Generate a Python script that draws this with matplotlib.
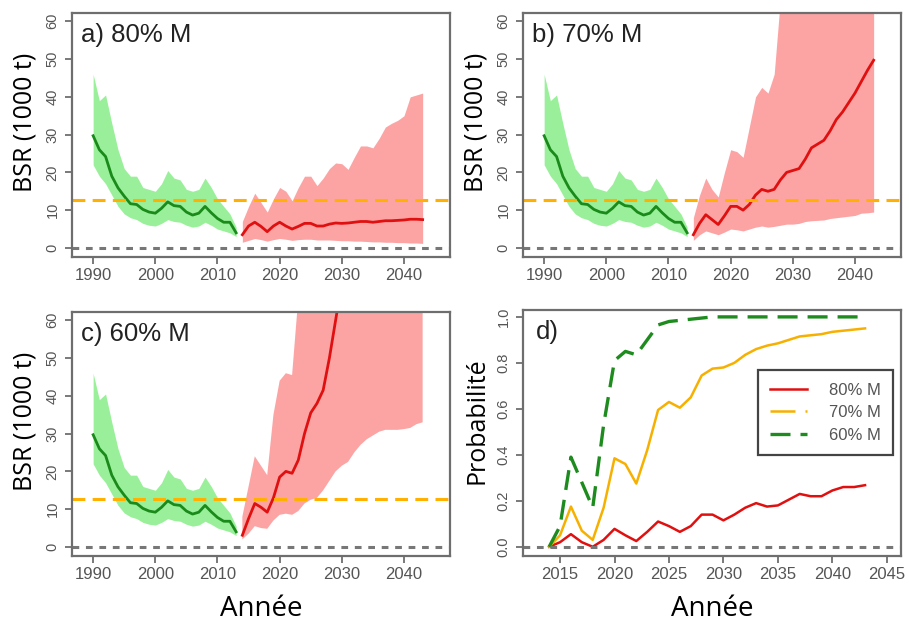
import numpy as np
import matplotlib
matplotlib.use("Agg")
import matplotlib.pyplot as plt

# historique 1990-2013 (identique pour a, b, c)
years_hist = list(range(1990, 2014))
bsr_hist = [29.7, 26.0, 24.2, 19.0, 15.9, 13.7, 11.7, 11.5, 10.2, 9.5, 9.2, 10.5,
            12.2, 11.2, 11.0, 9.5, 8.7, 9.2, 11.0, 9.3, 7.8, 6.8, 6.8, 4.0]
bsr_hist_hi = [46, 39, 40.5, 33, 26, 21, 19, 19, 16, 15.5, 15, 17,
               20.5, 18.5, 18, 15.5, 15, 15.5, 18.5, 16, 13, 11, 9, 5.5]
bsr_hist_lo = [22, 19, 17, 14, 11, 9, 8, 7.5, 6.5, 6, 5.8, 6.5,
               7.5, 7, 6.8, 6, 5.5, 5.8, 6.8, 6, 5, 4.5, 4, 3]

# projections 2014-2043
years_proj = list(range(2014, 2044))

a_med = [3.5, 5.8, 6.8, 5.7, 4.3, 5.8, 6.8, 5.8, 5.0, 5.7, 6.5, 6.5, 5.8, 5.8, 6.3,
         6.6, 6.5, 6.6, 6.8, 7.0, 7.0, 6.8, 7.0, 7.2, 7.2, 7.3, 7.4, 7.6, 7.6, 7.5]
a_hi = [7, 11, 14.5, 12, 9.5, 13, 16, 15, 12.5, 16, 19, 19, 16.5, 18.5, 21,
        22.5, 22.3, 20.8, 24, 27, 27, 26.5, 29, 32, 33, 33.8, 35, 40, 40.5, 41]
a_lo = [1.5, 2.0, 2.5, 2.2, 1.8, 2.2, 2.5, 2.3, 2.0, 2.2, 2.3, 2.3, 2.1, 2.1, 2.1,
        2.0, 1.9, 1.9, 1.8, 1.8, 1.7, 1.6, 1.6, 1.5, 1.5, 1.4, 1.4, 1.3, 1.3, 1.2]

b_med = [3.5, 6.5, 8.8, 7.5, 6.2, 8.5, 11, 11, 10, 11.5, 14, 15.5, 15, 15.5, 18,
         20, 20.5, 21, 23.5, 26.5, 27.5, 28.5, 31, 34, 36, 38.5, 41, 44, 47, 49.7]
b_hi = [8, 14, 18.5, 15.5, 13.5, 20, 26, 25.5, 24, 32, 40, 42.5, 41, 46, 66,
        72, 76, 80, 85, 90, 95, 100, 105, 110, 115, 120, 125, 130, 135, 140]
b_lo = [2, 3.5, 4.5, 4, 3.5, 4.2, 5, 4.8, 4.5, 5, 5.5, 5.8, 5.5, 5.7, 6,
        6.3, 6.3, 6.5, 7, 7.2, 7.3, 7.4, 7.8, 8, 8.2, 8.4, 8.6, 9.2, 9.3, 9.5]

c_med = [3.1, 7.5, 11.5, 10.5, 9.2, 13, 18.5, 20, 19.5, 23, 30, 35.5, 38, 41.5, 50,
         60, 70, 78, 86, 94, 102, 110, 118, 126, 134, 142, 150, 158, 166, 174]
c_hi = [8, 16, 24, 21.5, 19, 35, 44, 46, 45.5, 66, 75, 85, 95, 105, 115,
        125, 135, 145, 155, 165, 175, 185, 195, 205, 215, 225, 235, 245, 255, 265]
c_lo = [2, 3.5, 5.5, 5, 4.8, 7, 8.5, 8.8, 8.5, 9.5, 11.5, 12.5, 13, 15, 17.5,
        20, 21.5, 22.5, 25, 27, 28.5, 29.5, 30.5, 31, 31, 31, 31.2, 31.5, 32.5, 33]

# probabilité d'être au-dessus du seuil
p80 = [0, 0.02, 0.055, 0.02, 0.0, 0.03, 0.078, 0.05, 0.025, 0.065, 0.11, 0.09, 0.065,
       0.09, 0.14, 0.14, 0.115, 0.14, 0.17, 0.19, 0.175, 0.18, 0.205, 0.23, 0.22,
       0.22, 0.245, 0.26, 0.26, 0.268]
p70 = [0, 0.05, 0.175, 0.07, 0.03, 0.17, 0.385, 0.36, 0.275, 0.42, 0.595, 0.63, 0.605,
       0.65, 0.745, 0.775, 0.78, 0.80, 0.835, 0.86, 0.875, 0.885, 0.90, 0.915, 0.92,
       0.925, 0.935, 0.94, 0.945, 0.95]
p60 = [0, 0.09, 0.39, 0.28, 0.17, 0.53, 0.81, 0.85, 0.835, 0.90, 0.965, 0.98, 0.985,
       0.99, 0.995, 1.0, 1.0, 1.0, 1.0, 1.0, 1.0, 1.0, 1.0, 1.0, 1.0, 1.0, 1.0, 1.0,
       1.0, 1.0]

seuil = 12.8
panels = [("a) 80% M", a_med, a_lo, a_hi),
          ("b) 70% M", b_med, b_lo, b_hi),
          ("c) 60% M", c_med, c_lo, c_hi)]
legend_labels = ["80% M", "70% M", "60% M"]

tick_col = "#555555"
frame_col = "#6e6e6e"
lab_font = "Open Sans"
tick_font = "Liberation Sans"

W, H = 909, 625
fig = plt.figure(figsize=(W / 100, H / 100), dpi=100)


def box(x0, y0, x1, y1):
    return [x0 / W, 1 - y1 / H, (x1 - x0) / W, (y1 - y0) / H]


def style(ax):
    for s in ax.spines.values():
        s.set_color(frame_col)
        s.set_linewidth(1.6)
    ax.tick_params(axis="both", colors=frame_col, labelcolor=tick_col, length=5,
                   width=1.3, labelsize=12)
    ax.tick_params(axis="x", pad=3)
    ax.tick_params(axis="y", pad=4, labelsize=10.5)
    for t in ax.get_xticklabels() + ax.get_yticklabels():
        t.set_family(tick_font)
    for t in ax.get_yticklabels():
        t.set_rotation(90)
        t.set_va("center")


positions = [box(72, 13, 450, 257), box(523, 13, 901, 257), box(72, 312, 450, 556)]

for (title, med, lo, hi), pos in zip(panels, positions):
    ax = fig.add_axes(pos)
    ax.fill_between(years_hist, bsr_hist_lo, bsr_hist_hi, color="#9af09a", lw=0)
    ax.fill_between(years_proj, lo, hi, color="#fca4a4", lw=0)
    ax.plot(years_hist, bsr_hist, color="#1a8a1a", lw=2)
    ax.plot(years_proj, med, color="#e01010", lw=2)
    ax.axhline(seuil, color="#ffb000", lw=2.2, dashes=(4.2, 2.4))
    ax.axhline(0, color="#777777", lw=2.2, dashes=(2.2, 2.2))
    ax.set_xlim(1986.6, 2047.4)
    ax.set_ylim(-2.4, 62.2)
    ax.set_xticks([1990, 2000, 2010, 2020, 2030, 2040])
    ax.set_yticks([0, 10, 20, 30, 40, 50, 60])
    style(ax)
    ax.text(0.024, 0.96, title, transform=ax.transAxes, ha="left", va="top",
            fontsize=18.5, family=tick_font, color="#222222")
    ax.set_ylabel("BSR (1000 t)", fontsize=18, family=lab_font, va="center")
    ax.yaxis.set_label_coords(-0.125, 0.55)
    if title.startswith("c"):
        ax.set_xlabel("Année", fontsize=20, family=lab_font, va="baseline")
        ax.xaxis.set_label_coords(0.5, -0.244)

ax = fig.add_axes(box(523, 310, 901, 556))
ax.plot(years_proj, p80, color="#e01010", lw=1.8, label=legend_labels[0])
ax.plot(years_proj, p70, color="#f7b000", lw=1.8, label=legend_labels[1])
ax.plot(years_proj, p60, color="#1e8b1e", lw=2.4, dashes=(6, 3), label=legend_labels[2])
ax.axhline(0, color="#777777", lw=2.2, dashes=(2.2, 2.2))
ax.set_xlim(2011.6, 2046.3)
ax.set_ylim(-0.04, 1.03)
ax.set_xticks([2015, 2020, 2025, 2030, 2035, 2040, 2045])
ax.set_yticks([0.0, 0.2, 0.4, 0.6, 0.8, 1.0])
ax.set_yticklabels(["0.0", "0.2", "0.4", "0.6", "0.8", "1.0"])
style(ax)
ax.text(0.034, 0.96, "d)", transform=ax.transAxes, ha="left", va="top",
        fontsize=18.5, family=tick_font, color="#222222")
ax.set_ylabel("Probabilité", fontsize=18, family=lab_font, va="center")
ax.yaxis.set_label_coords(-0.122, 0.55)
ax.set_xlabel("Année", fontsize=20, family=lab_font, va="baseline")
ax.xaxis.set_label_coords(0.5, -0.244)

handles = ax.get_lines()[:3]
handles[1].set_dashes((10, 4, 1, 4))
leg = ax.legend(loc="upper right", bbox_to_anchor=(0.979, 0.756), borderaxespad=0,
                fancybox=False, edgecolor="#444444", framealpha=1,
                prop={"family": tick_font, "size": 12}, handlelength=2.2,
                labelspacing=0.45, borderpad=0.75, handletextpad=1.3)
leg.get_frame().set_linewidth(1.6)
handles[1].set_dashes((None, None))
handles[1].set_linestyle("-")
for t in leg.get_texts():
    t.set_color("#555555")

fig.savefig("out.png", dpi=100)
